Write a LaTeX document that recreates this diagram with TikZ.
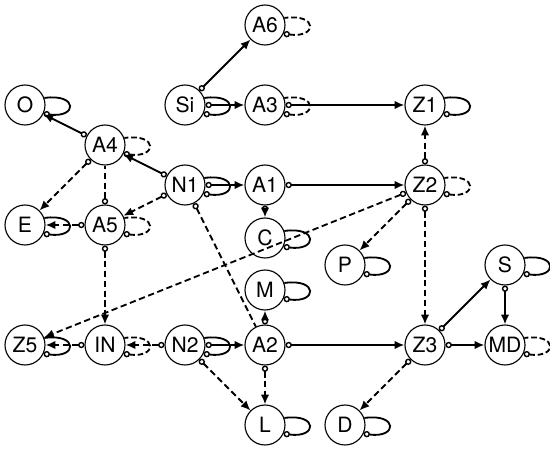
\documentclass[tikz,border=0pt]{standalone}
\usepackage{fontspec}
\setmainfont{TeX Gyre Heros}
\usepackage{tikz}
\usetikzlibrary{arrows.meta}

\tikzset{
  var/.style={circle, draw, line width=0.8pt, minimum size=1cm, inner sep=0pt,
    font=\fontsize{15}{17}\selectfont},
  link/.style={line width=1.3pt,
    arrows={Circle[open, fill=white, length=4.5pt, width=4.5pt, line width=1pt]-Latex[length=7pt, width=6pt]}},
  dashlink/.style={link, dash pattern=on 4.5pt off 2.5pt},
  halflink/.style={line width=1.3pt, dash pattern=on 4.5pt off 2.5pt,
    arrows={Circle[open, fill=white, length=4.5pt, width=4.5pt, line width=1pt]-}},
  selfloop/.style={line width=1.3pt,
    arrows={Circle[open, fill=white, length=4.5pt, width=4.5pt, line width=1pt]-}},
  dashloop/.style={selfloop, dash pattern=on 4pt off 2pt}
}

\begin{document}
\begin{tikzpicture}
  \useasboundingbox (-0.625,-0.625) rectangle (13.125,10.625);

  % Nodes, top row first
  \node[var] (A6) at (6,10) {A6};
  \node[var] (O)  at (0,8) {O};
  \node[var] (Si) at (4,8) {Si};
  \node[var] (A3) at (6,8) {A3};
  \node[var] (Z1) at (10,8) {Z1};
  \node[var] (A4) at (2,7) {A4};
  \node[var] (N1) at (4,6) {N1};
  \node[var] (A1) at (6,6) {A1};
  \node[var] (Z2) at (10,6) {Z2};
  \node[var] (E)  at (0,5) {E};
  \node[var] (A5) at (2,5) {A5};
  \node[var] (C)  at (6,4.675) {C};
  \node[var] (P)  at (8,4) {P};
  \node[var] (S)  at (12,4) {S};
  \node[var] (M)  at (6,3.375) {M};
  \node[var] (Z5) at (0,2) {Z5};
  \node[var] (IN) at (2,2) {IN};
  \node[var] (N2) at (4,2) {N2};
  \node[var] (A2) at (6,2) {A2};
  \node[var] (Z3) at (10,2) {Z3};
  \node[var] (MD) at (12,2) {MD};
  \node[var] (L)  at (6,0) {L};
  \node[var] (D)  at (8,0) {D};

  % Self loops
  \draw[dashloop] (A6.-25) .. controls +(0.85,-0.12) and +(0.85,0.12) .. (A6.20);
  \draw[selfloop] (O.-25)  .. controls +(0.85,-0.12) and +(0.85,0.12) .. (O.20);
  \draw[selfloop] (Si.-25) .. controls +(0.85,-0.12) and +(0.85,0.12) .. (Si.20);
  \draw[dashloop] (A3.-25) .. controls +(0.85,-0.12) and +(0.85,0.12) .. (A3.20);
  \draw[selfloop] (Z1.-25) .. controls +(0.85,-0.12) and +(0.85,0.12) .. (Z1.20);
  \draw[dashloop] (A4.-25) .. controls +(0.85,-0.12) and +(0.85,0.12) .. (A4.20);
  \draw[selfloop] (N1.-25) .. controls +(0.85,-0.12) and +(0.85,0.12) .. (N1.20);
  \draw[dashloop] (Z2.-25) .. controls +(0.85,-0.12) and +(0.85,0.12) .. (Z2.20);
  \draw[selfloop] (E.-25)  .. controls +(0.85,-0.12) and +(0.85,0.12) .. (E.20);
  \draw[dashloop] (A5.-25) .. controls +(0.85,-0.12) and +(0.85,0.12) .. (A5.20);
  \draw[selfloop] (C.-25)  .. controls +(0.85,-0.12) and +(0.85,0.12) .. (C.20);
  \draw[selfloop] (P.-25)  .. controls +(0.85,-0.12) and +(0.85,0.12) .. (P.20);
  \draw[selfloop] (S.-25)  .. controls +(0.85,-0.12) and +(0.85,0.12) .. (S.20);
  \draw[selfloop] (M.-25)  .. controls +(0.85,-0.12) and +(0.85,0.12) .. (M.20);
  \draw[selfloop] (Z5.-25) .. controls +(0.85,-0.12) and +(0.85,0.12) .. (Z5.20);
  \draw[dashloop] (IN.-25) .. controls +(0.85,-0.12) and +(0.85,0.12) .. (IN.20);
  \draw[selfloop] (N2.-25) .. controls +(0.85,-0.12) and +(0.85,0.12) .. (N2.20);
  \draw[dashloop] (MD.-25) .. controls +(0.85,-0.12) and +(0.85,0.12) .. (MD.20);
  \draw[selfloop] (L.-25)  .. controls +(0.85,-0.12) and +(0.85,0.12) .. (L.20);
  \draw[selfloop] (D.-25)  .. controls +(0.85,-0.12) and +(0.85,0.12) .. (D.20);

  % Solid links
  \draw[link] (Si) -- (A6);
  \draw[link] (Si) -- (A3);
  \draw[link] (A3) -- (Z1);
  \draw[link] (A4) -- (O);
  \draw[link] (N1) -- (A4);
  \draw[link] (N1) -- (A1);
  \draw[link] (A1) -- (Z2);
  \draw[link] (A1) -- (C);
  \draw[link] (N2) -- (A2);
  \draw[link] (A2) -- (Z3);
  \draw[link] (Z3) -- (S);
  \draw[link] (Z3) -- (MD);
  \draw[link] (S) -- (MD);

  % Dashed links
  \draw[dashlink] (A4) -- (E);
  \draw[halflink] (A5) -- (A4);
  \draw[dashlink] (N1) -- (A5);
  \draw[dashlink] (A5) -- (E);
  \draw[dashlink] (A5) -- (IN);
  \draw[halflink] (N1) -- (A2);
  \draw[dashlink] (Z2) -- (Z5);
  \draw[dashlink] (Z2) -- (P);
  \draw[dashlink] (Z2) -- (Z1);
  \draw[dashlink] (Z2) -- (Z3);
  \draw[dashlink] (IN) -- (Z5);
  \draw[dashlink] (N2) -- (IN);
  \draw[dashlink] (N2) -- (L);
  \draw[dashlink] (A2) -- (M);
  \draw[dashlink] (A2) -- (L);
  \draw[dashlink] (Z3) -- (D);
\end{tikzpicture}
\end{document}
